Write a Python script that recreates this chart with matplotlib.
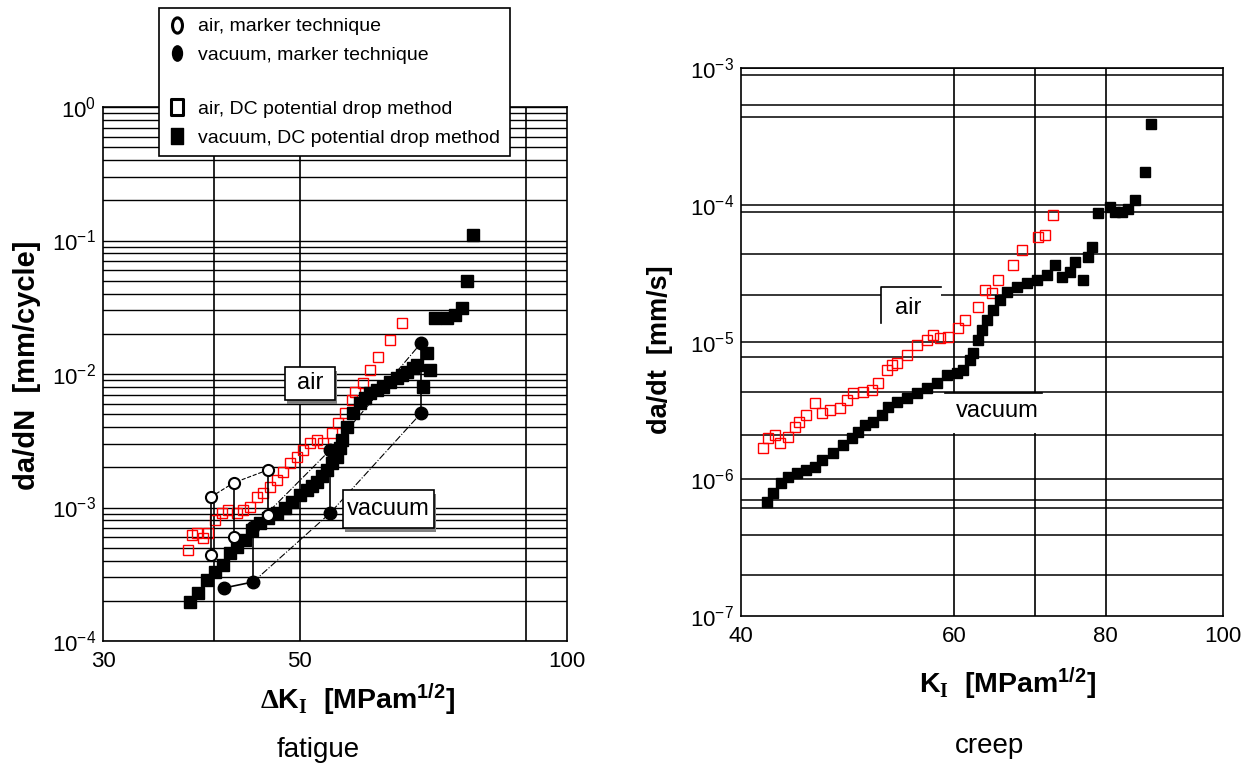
# fatigue / creep crack growth rates, air vs vacuum

import numpy as np
import matplotlib
matplotlib.use("Agg")
import matplotlib.pyplot as plt
from matplotlib.ticker import LogLocator, NullLocator, NullFormatter
from matplotlib.lines import Line2D
from matplotlib.patches import Rectangle
from matplotlib.path import Path

plt.rcParams["font.family"] = ["Liberation Sans", "DejaVu Sans"]
plt.rcParams["mathtext.fontset"] = "custom"
plt.rcParams["mathtext.rm"] = "Liberation Sans"
plt.rcParams["mathtext.it"] = "Liberation Sans:italic"
plt.rcParams["mathtext.bf"] = "Liberation Sans:bold"
plt.rcParams["mathtext.sf"] = "Liberation Serif:bold"

# ---- fatigue (left) ----
fat_vac_K = [37.6, 38.4, 39.3, 40.1, 41.0, 41.7, 42.5, 43.4, 44.2, 45.1, 46.0,
             47.1, 48.1, 49.0, 50.0, 50.9, 51.6, 52.3, 53.0, 53.6, 54.4, 55.1,
             55.5, 55.8, 56.5, 57.4, 58.4, 59.2, 60.0, 61.0, 62.0, 63.2, 64.3,
             65.2, 66.0, 67.0, 67.8, 68.8, 69.5, 70.1, 71.0, 73.2, 74.8, 76.2,
             77.1, 78.4]
fat_vac_v = [1.96e-4, 2.29e-4, 2.86e-4, 3.29e-4, 3.71e-4, 4.56e-4, 5.06e-4,
             5.71e-4, 6.78e-4, 7.66e-4, 8.34e-4, 9.10e-4, 1.0e-3, 1.10e-3,
             1.24e-3, 1.35e-3, 1.45e-3, 1.55e-3, 1.72e-3, 1.91e-3, 2.15e-3,
             2.39e-3, 2.8e-3, 3.21e-3, 4.01e-3, 5.10e-3, 6.07e-3, 6.6e-3,
             7.21e-3, 7.6e-3, 7.99e-3, 8.7e-3, 9.33e-3, 9.8e-3, 1.03e-2,
             1.10e-2, 1.17e-2, 7.99e-3, 1.44e-2, 1.07e-2, 2.63e-2, 2.63e-2,
             2.77e-2, 3.12e-2, 4.97e-2, 0.110]

fat_air_K = [37.4, 37.8, 38.3, 38.9, 39.4, 40.1, 40.9, 41.5, 42.5, 43.1, 43.9,
             44.7, 45.4, 46.3, 47.1, 47.9, 48.7, 49.6, 50.4, 51.3, 52.3, 53.1,
             54.4, 55.2, 56.2, 57.2, 57.7, 58.9, 60.0, 61.2, 63.2, 65.2]
fat_air_v = [4.80e-4, 6.22e-4, 6.44e-4, 5.91e-4, 6.44e-4, 8.06e-4, 9.10e-4,
             9.58e-4, 9.10e-4, 9.58e-4, 1.01e-3, 1.20e-3, 1.28e-3, 1.42e-3,
             1.61e-3, 1.84e-3, 2.15e-3, 2.39e-3, 2.70e-3, 3.04e-3, 3.21e-3,
             3.04e-3, 3.61e-3, 4.30e-3, 5.10e-3, 6.38e-3, 7.33e-3, 8.57e-3,
             1.07e-2, 1.34e-2, 1.80e-2, 2.41e-2]

# marker technique: start/end of each marked interval
air_mk_K = [39.7, 42.1, 46.0]
air_mk_hi = [1.20e-3, 1.53e-3, 1.91e-3]
air_mk_lo = [4.4e-4, 6.0e-4, 8.8e-4]
vac_mk_K = [44.3, 54.1, 68.5]
vac_mk_hi = [7.1e-4, 2.7e-3, 1.71e-2]
vac_mk_lo = [2.77e-4, 9.1e-4, 5.1e-3]
vac_mk0_K = [41.1, 44.3]
vac_mk0_v = [2.5e-4, 2.77e-4]

# ---- creep (right) ----
crp_vac_K = [42.0, 42.5, 43.2, 43.7, 44.5, 45.3, 46.0, 46.7, 47.6, 48.6, 49.4,
             50.0, 50.6, 51.4, 52.3, 52.9, 53.8, 54.8, 55.9, 57.0, 58.1, 59.2,
             60.3, 61.0, 61.8, 62.2, 62.8, 63.2, 63.8, 64.6, 65.4, 66.3, 67.6,
             68.9, 70.2, 71.6, 72.7, 73.6, 74.8, 75.5, 76.6, 77.4, 78.0, 78.9,
             80.7, 81.4, 82.5, 83.5, 84.6, 86.2, 87.2]
crp_vac_v = [6.79e-7, 7.91e-7, 9.35e-7, 1.03e-6, 1.11e-6, 1.16e-6, 1.22e-6,
             1.38e-6, 1.55e-6, 1.77e-6, 1.99e-6, 2.20e-6, 2.48e-6, 2.61e-6,
             2.93e-6, 3.36e-6, 3.65e-6, 3.90e-6, 4.25e-6, 4.62e-6, 5.02e-6,
             5.74e-6, 5.94e-6, 6.25e-6, 7.40e-6, 8.31e-6, 1.03e-5, 1.22e-5,
             1.45e-5, 1.71e-5, 2.03e-5, 2.32e-5, 2.52e-5, 2.70e-5, 2.84e-5,
             3.08e-5, 3.65e-5, 2.98e-5, 3.24e-5, 3.84e-5, 2.84e-5, 4.17e-5,
             4.93e-5, 8.74e-5, 9.67e-5, 8.89e-5, 8.89e-5, 9.35e-5, 1.09e-4,
             1.74e-4, 3.90e-4]

crp_air_K = [41.7, 42.1, 42.7, 43.1, 43.7, 44.3, 44.7, 45.3, 46.0, 46.7, 47.4,
             48.3, 48.9, 49.5, 50.4, 51.3, 51.9, 52.8, 53.3, 53.8, 54.8, 55.9,
             57.0, 57.6, 58.4, 59.3, 60.4, 61.2, 62.8, 63.6, 64.4, 65.2, 67.1,
             68.2, 70.3, 71.3, 72.4]
crp_air_v = [1.68e-6, 1.99e-6, 2.09e-6, 1.83e-6, 2.03e-6, 2.40e-6, 2.61e-6,
             2.93e-6, 3.59e-6, 3.03e-6, 3.19e-6, 3.30e-6, 3.78e-6, 4.25e-6,
             4.32e-6, 4.47e-6, 5.02e-6, 6.25e-6, 6.79e-6, 7.03e-6, 8.04e-6,
             9.50e-6, 1.03e-5, 1.12e-5, 1.07e-5, 1.09e-5, 1.26e-5, 1.45e-5,
             1.80e-5, 2.40e-5, 2.28e-5, 2.84e-5, 3.65e-5, 4.70e-5, 5.84e-5,
             6.04e-5, 8.45e-5]

# horizontal lines of the creep chart grid (irregular in the original)
crp_hgrid = [1e-3, 8.9e-4, 5.4e-4, 4.4e-4, 1e-4, 8.9e-5, 4.4e-5, 2.2e-5,
             1e-5, 7.8e-6, 4.3e-6, 2.1e-6, 1e-6, 7e-7, 6.1e-7, 3.9e-7, 2e-7]
crp_vgrid = [60, 70, 80]
fat_vgrid = [40, 50, 90]

fat_xticks = [30, 50, 100]
crp_xticks = [40, 60, 80, 100]
fat_yticks = [1e-4, 1e-3, 1e-2, 1e-1, 1e0]
crp_yticks = [1e-7, 1e-6, 1e-5, 1e-4, 1e-3]


def decade_labels(vals):
    return [r"$\mathregular{10^{%d}}$" % round(np.log10(v)) for v in vals]


fig = plt.figure(figsize=(12.45, 7.67), dpi=100)
ax1 = fig.add_axes([103 / 1245, 1 - 641 / 767, 464 / 1245, 534 / 767])
ax2 = fig.add_axes([741 / 1245, 1 - 616 / 767, 482 / 1245, 548 / 767])

for ax in (ax1, ax2):
    ax.set_xscale("log")
    ax.set_yscale("log")
    for sp in ax.spines.values():
        sp.set_linewidth(1.2)
        sp.set_color("black")
    ax.xaxis.set_minor_locator(NullLocator())
    ax.tick_params(which="both", length=0, labelsize=16)
    ax.tick_params(axis="x", pad=7)
    ax.tick_params(axis="y", pad=5)

# ---- left: fatigue ----
ax1.set_xlim(30, 100)
ax1.set_ylim(1e-4, 1)
ax1.set_xticks(fat_xticks)
ax1.set_xticklabels([str(v) for v in fat_xticks])
ax1.set_yticks(fat_yticks)
ax1.set_yticklabels(decade_labels(fat_yticks))
ax1.yaxis.set_minor_locator(LogLocator(base=10, subs=np.arange(2, 10)))
ax1.yaxis.set_minor_formatter(NullFormatter())
ax1.grid(axis="y", which="both", color="black", lw=1.0, zorder=1)
ax1.set_axisbelow(True)
for k in fat_vgrid:
    ax1.axvline(k, color="black", lw=1.2, zorder=1)

ax1.plot(fat_air_K, fat_air_v, ls="none", marker="s", ms=7, mfc="none",
         mec="red", mew=1.0, zorder=3)
ax1.plot(fat_vac_K, fat_vac_v, ls="none", marker="s", ms=8.5, mfc="black",
         mec="black", zorder=3)

ax1.plot(air_mk_K, air_mk_hi, color="black", ls="--", lw=0.8, zorder=4)
for k, lo, hi in zip(air_mk_K, air_mk_lo, air_mk_hi):
    ax1.plot([k, k], [lo, hi], color="black", lw=1.2, zorder=4)
ax1.plot(air_mk_K + air_mk_K, air_mk_hi + air_mk_lo, ls="none", marker="o",
         ms=8, mfc="white", mec="black", mew=1.5, zorder=5)

ax1.plot(vac_mk_K, vac_mk_hi, color="black", ls="-.", lw=0.8, zorder=4)
ax1.plot(vac_mk_K, vac_mk_lo, color="black", ls="-.", lw=0.8, zorder=4)
ax1.plot(vac_mk0_K, vac_mk0_v, color="black", lw=1.2, zorder=4)
for k, lo, hi in zip(vac_mk_K, vac_mk_lo, vac_mk_hi):
    ax1.plot([k, k], [lo, hi], color="black", lw=1.2, zorder=4)
ax1.plot(vac_mk_K + vac_mk_K + vac_mk0_K[:1], vac_mk_hi + vac_mk_lo + vac_mk0_v[:1],
         ls="none", marker="o", ms=9, mfc="black", mec="black", zorder=5)

# labelled boxes
ax1.add_patch(Rectangle((0.397, 0.444), 0.108, 0.062, transform=ax1.transAxes,
                        fc="0.5", ec="none", zorder=5))
ax1.add_patch(Rectangle((0.392, 0.451), 0.108, 0.062, transform=ax1.transAxes,
                        fc="white", ec="black", lw=1.2, zorder=6))
ax1.text(0.446, 0.483, "air", transform=ax1.transAxes, ha="center",
         va="center", fontsize=17, zorder=7)
ax1.add_patch(Rectangle((0.522, 0.205), 0.196, 0.071, transform=ax1.transAxes,
                        fc="0.5", ec="none", zorder=5))
ax1.add_patch(Rectangle((0.517, 0.212), 0.196, 0.071, transform=ax1.transAxes,
                        fc="white", ec="black", lw=1.2, zorder=6))
ax1.text(0.615, 0.248, "vacuum", transform=ax1.transAxes, ha="center",
         va="center", fontsize=17, zorder=7)

# ---- right: creep ----
ax2.set_xlim(40, 100)
ax2.set_ylim(1e-7, 1e-3)
ax2.set_xticks(crp_xticks)
ax2.set_xticklabels([str(v) for v in crp_xticks])
ax2.set_yticks(crp_yticks)
ax2.set_yticklabels(decade_labels(crp_yticks))
ax2.yaxis.set_minor_locator(NullLocator())
for v in crp_hgrid:
    ax2.axhline(v, color="black", lw=1.1, zorder=1)
for k in crp_vgrid:
    ax2.axvline(k, color="black", lw=1.2, zorder=1)

ax2.plot(crp_air_K, crp_air_v, ls="none", marker="s", ms=7, mfc="none",
         mec="red", mew=1.0, zorder=3)
ax2.plot(crp_vac_K, crp_vac_v, ls="none", marker="s", ms=7.5, mfc="black",
         mec="black", zorder=3)

ax2.add_patch(Rectangle((0.290, 0.535), 0.125, 0.065, transform=ax2.transAxes,
                        fc="white", ec="none", zorder=1.5))
ax2.plot([0.290, 0.290, 0.415], [0.535, 0.600, 0.600], transform=ax2.transAxes,
         color="black", lw=1.2, zorder=2)
ax2.text(0.346, 0.562, "air", transform=ax2.transAxes, ha="center",
         va="center", fontsize=17, zorder=4)
ax2.add_patch(Rectangle((0.423, 0.334), 0.201, 0.073, transform=ax2.transAxes,
                        fc="white", ec="none", zorder=1.5))
ax2.plot([0.423, 0.624], [0.407, 0.407], transform=ax2.transAxes,
         color="black", lw=1.2, zorder=2)
ax2.text(0.531, 0.374, "vacuum", transform=ax2.transAxes, ha="center",
         va="center", fontsize=17, zorder=4)

# axis labels and captions
fig.text(358 / 1245, 1 - 700 / 767,
         r"$\mathsf{\Delta}$K$_{\mathsf{I}}$  [MPam$^{\mathbf{1/2}}$]",
         ha="center", va="center", fontsize=20.5, fontweight="bold")
fig.text(1008 / 1245, 1 - 684 / 767,
         r"K$_{\mathsf{I}}$  [MPam$^{\mathbf{1/2}}$]",
         ha="center", va="center", fontsize=20.5, fontweight="bold")
fig.text(27 / 1245, 1 - 365 / 767, "da/dN  [mm/cycle]", rotation=90,
         ha="center", va="center", fontsize=21, fontweight="bold")
fig.text(660 / 1245, 1 - 350 / 767, "da/dt  [mm/s]", rotation=90,
         ha="center", va="center", fontsize=19.5, fontweight="bold")
fig.text(318 / 1245, 1 - 750 / 767, "fatigue", ha="center", va="center",
         fontsize=20)
fig.text(989 / 1245, 1 - 746 / 767, "creep", ha="center", va="center",
         fontsize=20)

# legend (marker shapes as in the original key)
circ = Path.unit_circle()
oval = Path(circ.vertices * [0.65, 1.0], circ.codes)
tall = Path([(-0.35, -0.5), (0.35, -0.5), (0.35, 0.5), (-0.35, 0.5), (-0.35, -0.5)],
            closed=True)
handles = [
    Line2D([], [], ls="none", marker=oval, ms=11, mfc="white", mec="black", mew=2.2),
    Line2D([], [], ls="none", marker=oval, ms=11, mfc="black", mec="black"),
    Line2D([], [], ls="none"),
    Line2D([], [], ls="none", marker=tall, ms=12, mfc="white", mec="black", mew=2.2),
    Line2D([], [], ls="none", marker=tall, ms=12, mfc="black", mec="black"),
]
labels = ["air, marker technique", "vacuum, marker technique", " ",
          "air, DC potential drop method", "vacuum, DC potential drop method"]
leg = fig.legend(handles, labels, loc="upper left",
                 bbox_to_anchor=(159 / 1245, 1 - 8 / 767), frameon=True,
                 fancybox=False, edgecolor="black", framealpha=1,
                 fontsize=14, handlelength=0.8, handletextpad=0.7,
                 labelspacing=0.55, borderpad=0.5, borderaxespad=0)
leg.get_frame().set_linewidth(1.2)
leg.get_texts()[2].set_fontsize(5)

fig.savefig("out.png", dpi=100)
